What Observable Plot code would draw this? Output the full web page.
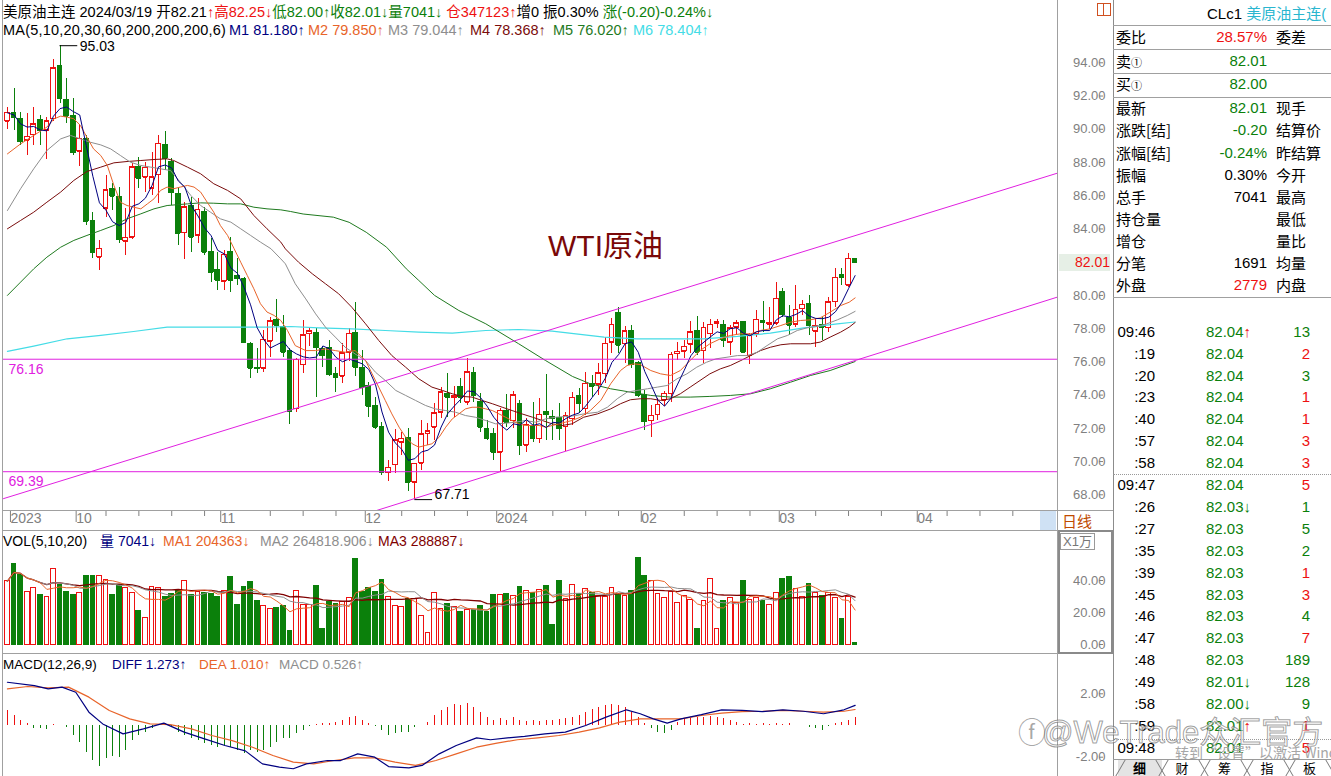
<!DOCTYPE html>
<html lang="zh-CN">
<head>
<meta charset="utf-8">
<title>WTI原油</title>
<script src="https://cdn.jsdelivr.net/npm/d3@7"></script>
<script src="https://cdn.jsdelivr.net/npm/@observablehq/plot@0.6"></script>
<style>
  html,body{margin:0;padding:0;background:#fff;}
  #root{position:relative;width:1331px;height:776px;overflow:hidden;background:#fff;
    font-family:"Liberation Sans",Arial,"Noto Sans CJK SC",sans-serif;color:#000;}
  .a{position:absolute;white-space:nowrap;}
  .hl{position:absolute;height:0;border-top:1px solid #a0a0a0;}
  .vl{position:absolute;width:0;border-left:1px solid #a0a0a0;}
</style>
</head>
<body>
<div id="root"></div>
<script>
// ---------------- DATA (daily candles, index 0 = 2023-09-18 … 129 = 2024-03-19) ----------------
const open = [90.47,90.99,90.63,89.35,89.67,90.53,89.93,90.63,93.78,91.79, 90.79,88.68,89.42,84.47,82.3,85.25,86.42,85.91,83.25,83.51, 87.72,87.12,86.46,87.26,89.06,88.02,86.11,83.77,85.37,83.61, 85.01,82.6,81.5,80.86,82.6,81.16,80.96,77.09,75.64,75.62, 77.23,78.53,78.09,76.63,73.17,75.84,77.69,77.73,76.79,76.85, 75.28,75.12,76.59,77.73,75.64,74.54,73.33,72.11,69.32,69.82, 71.17,71.43,68.76,69.9,71.67,72.07,72.97,74.08,73.84,74.48, 73.58,75.32,73.58,71.97,71.67,70.57,73.07,72.47,73.48,70.97, 72.13,71.37,72.97,72.67,72.63,72.11,72.57,73.92,73.17,74.68, 74.64,75.28,77.19,78.93,77.09,77.85,75.94,73.98,72.47,72.81, 73.68,74.08,76.48,76.64,77.05,77.85,76.68,77.69,78.29,78.19, 77.19,78.09,78.39,76.38,77.69,78.49,78.25,78.33,80.2,78.65, 78.25,79.19,79.49,77.85,78.19,78.05,79.63,81.2,80.6,82.21];
const high = [91.33,92.43,91.03,90.93,91.33,90.83,90.73,94.2,95.03,93.08, 91.87,90.27,89.63,85.01,83.3,87.22,86.72,86.52,85.21,87.92, 88.32,88.02,88.58,89.63,89.87,88.22,86.46,85.61,85.91,85.81, 85.31,83.41,82.6,82.7,83.51,82.2,81.1,77.19,76.79,77.89, 78.69,79.76,78.79,76.8,76.2,78.49,77.99,77.99,76.9,77.29, 75.68,77.09,77.99,79.59,76.68,74.78,73.88,72.37,70.06,71.91, 71.77,71.97,69.9,72.47,72.27,73.48,74.48,75.32,74.54,74.98, 76.18,75.68,74.08,72.47,71.97,73.17,74.04,74.24,73.68,72.57, 73.58,73.78,75.22,73.07,73.51,72.97,74.18,74.38,75.38,75.18, 75.88,77.49,78.59,79.25,78.13,78.19,76.04,74.28,73.38,73.78, 74.24,76.58,77.19,77.29,78.43,78.73,78.39,78.53,78.53,78.49, 78.19,78.49,78.39,77.69,79.09,79.63,79.29,80.8,80.4,79.39, 80.6,79.69,79.99,78.59,78.69,79.89,81.6,81.6,82.5,82.25];
const low = [89.99,89.93,89.02,88.42,89.02,89.02,88.18,90.47,91.53,90.33, 88.42,87.78,84.21,82.2,81.5,84.71,85.11,83.11,82.4,83.37, 86.42,86.22,86.02,85.51,87.52,85.41,83.01,82.16,82.6,83.11, 82.4,80.8,80.3,80.3,80.16,80.6,77.09,74.98,75.28,75.34, 76.28,77.79,76.28,72.23,72.97,75.28,76.9,73.88,75.68,75.12, 74.18,74.68,76.04,75.12,73.98,72.67,71.91,69.16,68.82,69.26, 70.37,68.22,67.71,69.46,70.97,71.27,72.57,72.67,72.67,73.48, 73.38,73.58,71.77,71.27,70.06,69.42,72.07,71.97,70.37,70.57, 71.17,71.07,71.27,71.27,71.27,70.62,72.17,72.87,72.77,73.88, 73.98,74.68,76.49,76.53,75.88,75.58,73.88,71.87,71.47,72.47, 73.33,73.58,76.08,76.18,76.48,76.38,75.88,76.78,77.99,76.88, 76.38,77.59,76.48,75.84,77.49,77.79,77.93,78.19,78.69,77.59, 78.05,78.79,77.59,76.85,77.29,77.79,79.29,80.6,80.5,82.0];
const close = [90.99,90.73,89.26,89.55,90.31,89.93,90.47,93.68,91.83,90.79, 88.58,89.42,84.47,82.6,82.8,86.32,85.97,83.35,83.47,87.72, 87.06,87.68,87.12,89.12,88.26,86.17,83.75,85.31,83.51,85.15, 82.6,81.4,80.9,82.46,80.9,81.0,77.19,75.62,75.58,77.33, 78.45,78.19,76.59,73.03,76.12,77.59,77.85,76.85,76.38,75.24, 75.04,76.52,77.69,75.68,74.48,73.33,72.07,69.36,69.62,71.27, 71.37,68.76,69.86,71.63,71.81,72.91,74.18,73.88,73.92,73.88, 75.38,73.98,72.07,71.37,70.57,73.07,72.37,73.98,70.97,72.23, 71.37,72.83,72.83,72.57,71.97,72.77,73.84,73.48,74.68,74.54, 75.32,77.09,78.23,76.99,77.85,75.84,73.98,72.41,72.77,73.43, 74.08,76.42,76.62,76.92,77.79,76.58,78.05,78.23,78.39,77.29, 78.03,78.33,76.58,77.59,78.53,78.39,78.33,79.79,78.85,78.19, 79.13,79.45,78.19,78.13,78.09,79.59,81.06,81.1,82.2,82.01];
// volume, unit 万 (x10,000)
const volume = [39.6,50.4,43.3,32.9,35.4,30.8,29.8,46.9,37.1,32.7, 30.8,32.3,42.7,42.7,42.7,40.2,30.8,37.5,35.4,32.3, 20.8,16.7,35.8,35.4,29.8,31.3,33.8,40.0,30.8,32.9, 32.3,31.7,29.6,33.3,42.1,24.6,35.8,39.0,27.1,24.0, 22.5,22.9,24.0,8.75,33.3,24.4,24.4,36.5,9.8,26.7, 25.6,26.7,29.2,53.5,32.9,35.4,32.9,40.6,29.8,24.0, 23.3,28.5,28.5,18.1,6.9,31.9,21.9,25.4,23.3,20.2, 21.5,21.3,24.0,20.2,30.8,30.8,31.7,30.2,35.8,33.3, 32.3,33.8,36.5,12.1,39.6,28.5,36.9,31.3,34.4,32.3, 30.6,29.6,35.4,31.3,30.2,33.3,53.8,42.7,39.6,31.3, 29.2,32.9,26.0,30.2,28.1,9.4,27.1,41.0,9.4,27.5, 28.8,26,40,28,29,27.5,25,32,41,42, 35,30,38,32,30.6,32,29,16,30,0.7];

// moving averages: [candle index, value]
const ma10 = [[0,88.52],[2,89.12],[4,89.63],[6,90.13],[7.1,90.63],[8.1,90.79],[9.1,90.73],[10.1,90.63],[11.1,90.23],[12.1,89.52],[13.1,88.82],[14.2,88.42],[15.2,87.82],[16.2,86.62],[17.2,85.61],[18.2,85.41],[19.2,85.31],[20.3,85.21],[21.3,85.51],[22.3,85.81],[23.3,86.32],[24.3,86.52],[25.3,86.42],[26.3,86.52],[27.4,86.62],[28.4,86.52],[29.4,86.22],[30.4,85.61],[31.4,85.01],[32.4,84.21],[33.5,83.61],[34.5,82.81],[35.5,82.0],[36.5,81.2],[37.5,80.4],[38.5,79.5],[39.5,79.0],[40.6,78.79],[41.6,78.49],[42.6,77.9],[43.8,76.98],[45.4,76.68],[46.9,76.68],[48.4,76.78],[49.9,76.68],[51.4,76.58],[52.9,76.68],[54.5,76.08],[55.5,75.28],[56.5,74.48],[57.5,73.68],[58.5,72.87],[59.6,72.07],[60.6,71.47],[61.6,71.07],[62.6,70.87],[63.6,70.97],[64.6,71.07],[65.7,71.47],[66.7,72.07],[67.7,72.57],[68.7,72.87],[69.7,73.17],[70.7,73.27],[71.7,73.27],[72.8,73.17],[73.8,73.07],[74.8,72.87],[75.8,72.67],[76.8,72.47],[77.8,72.27],[78.8,72.17],[80.9,72.17],[81.9,72.07],[82.9,72.17],[83.9,72.27],[84.9,72.37],[85.9,72.47],[87.2,72.67],[88.7,73.07],[90.3,73.68],[91.8,74.68],[93.3,75.48],[94.3,75.78],[95.3,75.88],[96.3,75.84],[97.9,75.48],[99.4,75.28],[100.9,75.18],[102.4,75.48],[103.9,76.08],[105.4,76.68],[106.9,77.09],[108.5,77.39],[110.0,77.59],[111.6,77.69],[113.1,77.69],[114.6,77.89],[116.1,77.99],[117.7,78.19],[119.2,78.39],[120.7,78.49],[122.2,78.53],[123.7,78.65],[125.2,78.99],[126.8,79.39],[128.1,79.59],[129,79.85]];
const ma20 = [[0,85.11],[2,86.42],[4,87.62],[6,88.72],[8.1,89.42],[9.6,89.63],[11.1,89.42],[12.6,89.22],[14.2,89.06],[15.7,88.82],[17.2,88.42],[18.7,88.02],[20.3,87.82],[21.8,87.72],[23.3,87.62],[24.8,87.52],[26.3,86.82],[27.9,86.02],[29.4,85.41],[30.9,85.01],[32.4,84.61],[34.0,84.41],[35.5,84.01],[37.0,83.61],[38.5,83.21],[40.1,82.81],[41.6,82.2],[42.3,81.9],[43.8,80.7],[45.4,79.79],[46.9,78.89],[48.4,78.09],[49.9,77.49],[51.4,76.88],[52.9,76.48],[54.5,76.08],[56.0,75.38],[57.5,74.88],[59.1,74.28],[60.6,73.98],[62.1,73.68],[63.6,73.38],[65.1,73.17],[66.7,73.07],[68.2,72.97],[69.7,72.77],[71.2,72.67],[72.8,72.47],[74.3,72.27],[75.8,72.31],[77.3,72.37],[78.8,72.47],[80.4,72.37],[81.9,72.57],[83.4,72.67],[84.9,72.71],[86.5,72.77],[87.7,72.87],[89.8,72.97],[91.3,73.27],[92.8,73.78],[94.3,74.18],[95.8,74.28],[97.4,74.38],[98.9,74.48],[100.4,74.58],[101.9,74.98],[103.4,75.28],[104.9,75.68],[106.4,75.98],[107.8,76.18],[109.5,76.28],[111.1,76.38],[112.6,76.38],[114.1,76.58],[115.6,76.98],[117.2,77.39],[118.7,77.59],[120.2,77.89],[121.7,78.05],[123.2,78.13],[124.7,78.29],[126.3,78.53],[127.8,78.79],[129,79.04]];
const ma30 = [[0,84.01],[2,84.51],[4,85.01],[6,85.61],[8.1,86.22],[10.1,86.92],[12.1,87.46],[14.2,87.72],[16.2,87.98],[18.2,88.06],[20.3,88.12],[22.3,88.18],[24.3,88.22],[25.3,88.12],[27.4,87.72],[29.4,87.32],[31.4,86.72],[33.5,86.32],[35.5,85.81],[37.5,84.81],[39.5,84.01],[41.6,83.21],[42.3,82.8],[44.3,82.0],[46.4,81.3],[48.4,80.7],[50.4,80.1],[52.4,79.29],[54.5,78.29],[56.5,77.29],[58.5,76.38],[60.6,75.68],[62.6,74.98],[64.6,74.48],[66.2,74.28],[67.7,74.08],[69.2,73.92],[70.7,73.88],[72.2,73.68],[73.8,73.48],[75.3,73.27],[76.8,73.07],[78.3,72.87],[79.9,72.67],[81.4,72.47],[82.9,72.27],[84.4,72.17],[85.9,72.27],[87.7,72.67],[89.8,72.87],[91.8,73.17],[93.3,73.48],[94.8,73.72],[96.3,73.78],[97.9,73.78],[99.4,73.68],[100.9,73.78],[102.4,74.08],[103.9,74.48],[105.4,74.88],[106.9,75.28],[108.5,75.58],[110.0,75.78],[111.6,76.08],[113.1,76.38],[114.6,76.68],[116.1,76.88],[117.7,77.03],[119.2,77.09],[122.2,77.09],[123.7,77.19],[125.2,77.49],[126.8,77.79],[128.1,78.09],[129,78.37]];
const ma60 = [[0,80.0],[2,80.8],[4,81.6],[6,82.3],[8.1,82.9],[10.1,83.31],[12.1,83.61],[14.2,83.91],[16.2,84.21],[18.2,84.61],[20.3,84.91],[22.3,85.21],[24.3,85.41],[27.4,85.51],[29.4,85.57],[31.4,85.55],[33.5,85.51],[35.5,85.51],[37.5,85.31],[39.5,85.21],[41.6,85.15],[43.1,85.05],[45.0,84.9],[49.6,84.71],[52.0,84.4],[54.6,83.8],[57.7,82.9],[60.7,81.6],[62.6,80.9],[65.0,80.0],[68.7,79.09],[72.8,78.29],[77.8,77.09],[81.9,76.08],[86.0,75.12],[88.7,74.68],[91.8,74.38],[94.8,74.18],[97.9,73.98],[100.9,73.88],[103.9,73.88],[106.9,73.92],[110.0,73.98],[113.1,74.08],[116.1,74.38],[119.2,74.78],[122.2,75.18],[125.2,75.48],[129,76.02]];
const ma200 = [[0,76.63],[4,76.95],[9.1,77.39],[14.2,77.59],[19.2,77.83],[24.3,78.09],[29.4,78.09],[34.5,78.09],[39.5,78.09],[43.1,78.13],[47.4,78.05],[52.4,77.99],[57.5,77.89],[62.6,77.79],[67.7,77.73],[72.8,77.89],[77.8,77.95],[82.9,77.85],[86.5,77.69],[90.8,77.49],[95.8,77.39],[100.9,77.39],[105.9,77.39],[111.1,77.53],[116.1,77.73],[121.2,78.05],[126.3,78.29],[129,78.40]];

// user-drawn levels and channel
const levels = [76.16, 69.39];
const chanUpper = [[-0.6, 67.77], [159.8, 87.36]];
const chanLower = [[50, 66.29], [159.8, 79.9]];

// MACD(12,26,9)
const diffLine = [[0,2.73],[4.1,2.52],[6.2,2.31],[8.3,2.42],[10.4,2.1],[12.4,0.84],[14.5,0.1],[17.6,-0.53],[20.7,-0.21],[23.8,0.15],[26.9,-0.42],[30.0,-0.84],[33.1,-1.26],[36.2,-1.6],[38.8,-2.42],[41.4,-2.63],[43.5,-2.73],[45.5,-2.42],[48.7,-2.21],[50.7,-2.21],[53.3,-1.79],[55.9,-2.0],[58.0,-2.59],[61.1,-2.67],[63.1,-2.52],[65.7,-1.79],[68.3,-1.26],[71.4,-0.78],[73.5,-0.9],[76.1,-0.78],[78.7,-0.69],[81.8,-0.53],[84.9,-0.42],[88.0,0],[91.1,0.53],[94.2,0.99],[96.3,0.74],[98.3,0.42],[100.4,0.15],[102.5,0.42],[105.6,0.69],[108.7,0.99],[111.8,0.95],[114.9,0.88],[118.0,0.99],[121.1,0.9],[124.2,0.74],[127.3,0.99],[129,1.273]];
const deaLine = [[0,2.31],[3.1,2.46],[6.2,2.38],[9.3,2.42],[12.4,1.79],[15.5,0.95],[18.6,0.42],[21.7,0.1],[24.8,0.06],[28.0,-0.21],[31.1,-0.63],[34.2,-0.95],[37.3,-1.37],[40.4,-1.89],[43.5,-2.31],[46.6,-2.42],[49.7,-2.21],[52.8,-2.04],[55.9,-2.04],[59.0,-2.31],[62.1,-2.52],[65.2,-2.21],[68.3,-1.79],[71.4,-1.37],[74.5,-1.11],[77.6,-0.9],[80.7,-0.78],[83.9,-0.63],[87.0,-0.42],[90.1,-0.15],[93.2,0.21],[96.3,0.42],[99.4,0.42],[102.5,0.42],[105.6,0.63],[108.7,0.78],[111.8,0.88],[114.9,0.9],[118.0,0.95],[121.1,0.9],[124.2,0.84],[127.3,0.9],[129,1.01]];
const macdHist = [0.95,0.63,0.32,0.1,-0.2,-0.2,-0.25,0.05,0.03,-0.1, -0.63,-1.05,-1.68,-2.2,-2.59,-2.1,-1.96,-2.0,-1.58,-0.95, -0.63,-0.42,-0.21,0.05,0.1,-0.1,-0.42,-0.63,-0.84,-0.95, -1.16,-1.26,-1.37,-1.26,-1.37,-1.58,-1.79,-1.58,-1.68,-1.58, -1.37,-1.05,-0.84,-0.84,-0.53,-0.32,-0.06,0.06,0.1,0.15, 0.21,0.32,0.53,0.57,0.32,0.1,-0.06,-0.32,-0.63,-0.53, -0.42,-0.42,-0.15,0.02,0.21,0.63,0.95,1.16,1.3,1.26, 1.41,1.16,0.84,0.53,0.32,0.42,0.32,0.53,0.32,0.27, 0.32,0.27,0.32,0.32,0.36,0.42,0.53,0.63,0.84,0.99, 1.16,1.26,1.3,1.26,1.16,0.84,0.53,0.15,-0.21,-0.42, -0.53,-0.32,0.21,0.42,0.42,0.53,0.53,0.57,0.53,0.42, 0.32,0.21,0.06,0.1,0.06,0.1,0.06,0.15,0.06,0.1, 0.0,0.0,-0.1,-0.21,-0.32,-0.06,0.1,0.21,0.32,0.526];

// axis ticks
const priceTicks = [68,70,72,74,76,78,80,82,84,86,88,90,92,94];
const volTicks = [0,20,40];
const macdTicks = [2,-2];
const dateTickIdx = [0,10,32,54,74,96,117,138];
const dateTickLabel = ["2023","10","11","12","2024","02","03","04"];
const weekTickIdx = [15,20,25,30,40,45,50,60,65,70,83,88,93,103,108,113,123,128,133,143,148,153,158];

// texts
const titleText = "WTI原油";
const infoLine = "美原油主连 2024/03/19";
const maHeader = ["MA(5,10,20,30,60,200,200,200,6)","M1 81.180↑","M2 79.850↑","M3 79.044↑","M4 78.368↑","M5 76.020↑","M6 78.404↑"];
const volHeader = ["VOL(5,10,20)","量 7041↓","MA1 204363↓","MA2 264818.906↓","MA3 288887↓"];
const macdHeader = ["MACD(12,26,9)","DIFF 1.273↑","DEA 1.010↑","MACD 0.526↑"];
const quoteLabel = ["委比","卖①","买①","最新","涨跌[结]","涨幅[结]","振幅","总手","持仓量","增仓","分笔","外盘"];
const quoteValue = ["28.57%","82.01","82.00","82.01","-0.20","-0.24%","0.30%","7041","","","1691","2779"];
const quoteTone  = ["up","down","down","down","down","down","flat","flat","flat","flat","flat","up"];
const quoteRight = ["委差","","","现手","结算价","昨结算","今开","最高","最低","量比","均量","内盘"];
const tickTime  = ["09:46",":19",":20",":23",":40",":57",":58","09:47",":26",":27",":35",":39",":45",":46",":47",":48",":49",":58",":59","09:48"];
const tickPrice = ["82.04","82.04","82.04","82.04","82.04","82.04","82.04","82.04","82.03","82.03","82.03","82.03","82.03","82.03","82.03","82.03","82.01","82.00","82.01","82.01"];
const tickArrow = ["↑","","","","","","","","↓","","","","","","","","↓","↓","↑",""];
const tickVol   = [13,2,3,1,1,3,3,5,1,5,2,1,3,4,7,189,128,9,1,5];
const tickSide  = ["down","up","down","up","up","up","up","up","down","down","down","up","up","down","up","down","down","down","up","up"];
const tabs = ["细","财","筹","指","板"];

// ---------------- RENDER ----------------
const RED = "#ee1111", GREEN = "#0b800b", MAG = "#e020e0";
const C_MA5 = "#000080", C_MA10 = "#e8642a", C_MA20 = "#8e8e8e", C_MA30 = "#7a0c0c", C_MA60 = "#1f7a1f", C_MA200 = "#44dce6";
const toneColor = {up: RED, down: GREEN, flat: "#000"};
const root = document.getElementById("root");
const xDomain = [-0.6, 159.8];
const plotStyle = {fontFamily: "Liberation Sans, Arial, sans-serif", fontSize: "13px", background: "transparent", overflow: "visible"};

const candles = open.map((o, i) => ({i, o, h: high[i], l: low[i], c: close[i], v: volume[i]}));
const col = d => d.c >= d.o ? RED : GREEN;
const bodyFill = d => d.c >= d.o ? "#fff" : GREEN;
const hw = 0.36;

function place(el, left, top) {
  const w = document.createElement("div");
  w.style.cssText = `position:absolute;left:${left}px;top:${top}px;`;
  w.appendChild(el); root.appendChild(w); return w;
}
function txt(html, left, top, css = "") {
  const d = document.createElement("div");
  d.className = "a"; d.style.cssText += `left:${left}px;top:${top}px;${css}`;
  d.innerHTML = html; root.appendChild(d); return d;
}
function hline(x1, x2, y, css = "") { const d = document.createElement("div"); d.className = "hl"; d.style.cssText += `left:${x1}px;width:${x2 - x1}px;top:${y}px;${css}`; root.appendChild(d); }
function vline(x, y1, y2, css = "") { const d = document.createElement("div"); d.className = "vl"; d.style.cssText += `left:${x}px;top:${y1}px;height:${y2 - y1}px;${css}`; root.appendChild(d); }

const hi = candles.reduce((a, b) => b.h > a.h ? b : a);
const lo = candles.reduce((a, b) => b.l < a.l ? b : a);
const labelMap = new Map(dateTickIdx.map((d, k) => [d, dateTickLabel[k]]));
const yAxisOpts = {anchor: "right", tickSize: 4, tickPadding: 3, textAnchor: "end", dx: 41, color: "#808080", fontSize: 13, label: null, tickFormat: d => d.toFixed(2)};

const priceChart = Plot.plot({
  width: 1113, height: 531, marginLeft: 3, marginRight: 56, marginTop: 0, marginBottom: 21,
  x: {domain: xDomain, axis: null},
  y: {domain: [67.055, 97.75], axis: null},
  style: plotStyle,
  marks: [
    Plot.ruleX(candles, {x: "i", y1: "l", y2: "h", stroke: col, shapeRendering: "crispEdges"}),
    Plot.rect(candles, {x1: d => d.i - hw, x2: d => d.i + hw, y1: d => Math.min(d.o, d.c), y2: d => Math.max(d.o, d.c), fill: bodyFill, stroke: col, shapeRendering: "crispEdges"}),
    Plot.ruleY(candles, {y: "c", x1: d => d.i - hw, x2: d => d.i + hw, stroke: col, shapeRendering: "crispEdges"}),
    Plot.ruleY(candles, {y: "o", x1: d => d.i - hw, x2: d => d.i + hw, stroke: col, shapeRendering: "crispEdges"}),
    Plot.line(ma200, {x: d => d[0], y: d => d[1], stroke: C_MA200, strokeWidth: 1.2}),
    Plot.line(ma60, {x: d => d[0], y: d => d[1], stroke: C_MA60, strokeWidth: 1}),
    Plot.line(ma30, {x: d => d[0], y: d => d[1], stroke: C_MA30, strokeWidth: 1}),
    Plot.line(ma20, {x: d => d[0], y: d => d[1], stroke: C_MA20, strokeWidth: 1}),
    Plot.line(ma10, {x: d => d[0], y: d => d[1], stroke: C_MA10, strokeWidth: 1}),
    Plot.lineY(candles, Plot.windowY({k: 5, anchor: "end"}, {x: "i", y: "c", stroke: C_MA5, strokeWidth: 1})),
    Plot.ruleY(levels, {y: d => d, stroke: MAG, strokeWidth: 1}),
    Plot.line(chanUpper, {x: d => d[0], y: d => d[1], stroke: MAG, strokeWidth: 1, clip: true}),
    Plot.line(chanLower, {x: d => d[0], y: d => d[1], stroke: MAG, strokeWidth: 1, clip: true}),
    Plot.text(levels, {frameAnchor: "left", y: d => d, text: d => d.toFixed(2), dx: 5, dy: 10, textAnchor: "start", fill: MAG, fontSize: 14}),
    Plot.ruleY([hi], {y: "h", x1: "i", x2: d => d.i + 2.7, stroke: "#000"}),
    Plot.text([hi], {x: d => d.i + 2.7, y: "h", text: d => d.h.toFixed(2), textAnchor: "start", dx: 2, dy: 1, fill: "#000", fontSize: 14}),
    Plot.ruleY([lo], {y: "l", x1: "i", x2: d => d.i + 2.7, stroke: "#000"}),
    Plot.text([lo], {x: d => d.i + 2.7, y: "l", text: d => d.l.toFixed(2), textAnchor: "start", lineAnchor: "bottom", dx: 2, dy: -1, fill: "#000", fontSize: 14}),
    Plot.axisY({...yAxisOpts, ticks: priceTicks}),
    Plot.axisX({anchor: "bottom", ticks: dateTickIdx, tickFormat: d => labelMap.get(d), tickSize: 12, tickPadding: -9, textAnchor: "start", dx: 3, color: "#808080", fontSize: 14, label: null}),
    Plot.axisX({anchor: "bottom", ticks: weekTickIdx, tickFormat: () => "", tickSize: 6, color: "#808080", label: null})
  ]
});
place(priceChart, 0, 0);

const volChart = Plot.plot({
  width: 1113, height: 122, marginLeft: 3, marginRight: 56, marginTop: 0, marginBottom: 0,
  x: {domain: xDomain, axis: null},
  y: {domain: [-5.625, 70.625], axis: null},
  style: plotStyle,
  marks: [
    Plot.rect(candles, {x1: d => d.i - hw, x2: d => d.i + hw, y1: 0, y2: "v", fill: bodyFill, stroke: col, shapeRendering: "crispEdges"}),
    Plot.lineY(candles, Plot.windowY({k: 20, anchor: "end"}, {x: "i", y: "v", stroke: "#800000", strokeWidth: 1.3})),
    Plot.lineY(candles, Plot.windowY({k: 10, anchor: "end"}, {x: "i", y: "v", stroke: "#8e8e8e", strokeWidth: 1})),
    Plot.lineY(candles, Plot.windowY({k: 5, anchor: "end"}, {x: "i", y: "v", stroke: C_MA10, strokeWidth: 1})),
    Plot.axisY({...yAxisOpts, ticks: volTicks})
  ]
});
place(volChart, 0, 531);

const histRows = macdHist.map((v, i) => ({i, v}));
const macdChart = Plot.plot({
  width: 1113, height: 123, marginLeft: 3, marginRight: 56, marginTop: 0, marginBottom: 0,
  x: {domain: xDomain, axis: null},
  y: {domain: [-3.218, 4.543], axis: null},
  style: plotStyle,
  marks: [
    Plot.ruleX(histRows, {x: "i", y1: 0, y2: "v", stroke: d => d.v >= 0 ? RED : GREEN, shapeRendering: "crispEdges"}),
    Plot.line(deaLine, {x: d => d[0], y: d => d[1], stroke: C_MA10, strokeWidth: 1.2}),
    Plot.line(diffLine, {x: d => d[0], y: d => d[1], stroke: "#000080", strokeWidth: 1.2}),
    Plot.axisY({...yAxisOpts, ticks: macdTicks})
  ]
});
place(macdChart, 0, 653);

// ---------- frame lines ----------
vline(2, 0, 776);
vline(1057, 0, 776);
vline(1113, 0, 776, "border-left-color:#8c8c8c;");
hline(2, 1113, 510);
hline(2, 1113, 530);
hline(2, 1113, 653);
const box = document.createElement("div");
box.style.cssText = "position:absolute;left:1058px;top:530px;width:51px;height:120px;border:2px solid #8a8a8a;";
root.appendChild(box);
txt("X1万", 1060, 533, "font-size:13px;color:#777;border:1px solid #999;padding:0 2px;line-height:15px;background:#fff;font-family:'Liberation Sans','Noto Sans CJK SC';");
txt("", 1040, 511, "width:16px;height:19px;background:#cfe1f4;");
txt("日线", 1062, 511, "font-size:15px;line-height:19px;color:#c04a00;font-family:'Noto Sans CJK SC';");
txt("", 1097, 3, "width:12px;height:11px;border:1px solid #d05020;");
vline(1103, 3, 16, "border-left-color:#d05020;");

// current price tag
const tagY = priceChart.scale("y").apply(close[close.length - 1]);
txt(close[close.length - 1].toFixed(2), 1059, tagY - 8, `width:51px;height:17px;line-height:17px;text-align:right;background:#e6efe6;color:${RED};font-size:14px;`);

// ---------- headers ----------
const up = s => `<span style="color:${RED}">${s}</span>`;
const dn = s => `<span style="color:${GREEN}">${s}</span>`;
const hdrCss = "font-size:14.5px;line-height:18px;";
txt(`${infoLine} 开82.21${up("↑")}${up("高82.25↓")}${dn("低82.00↑")}${dn("收82.01↓")}${dn("量7041↓")} ${up("仓347123↑")}增0 振0.30% ${dn("涨(-0.20)-0.24%↓")}`, 3, 3, hdrCss);
const maColors = ["#000", C_MA5, C_MA10, C_MA20, C_MA30, C_MA60, C_MA200];
const maX = [3, 229, 308, 388, 470, 553, 633];
maHeader.forEach((t, k) => txt(t, maX[k], 21, hdrCss + `color:${maColors[k]};` + (k === 0 ? "letter-spacing:0.2px;" : "")));
const volColors = ["#000", "#000080", C_MA10, "#8e8e8e", "#800000"];
const volX = [3, 100, 163, 260, 378];
volHeader.forEach((t, k) => txt(t, volX[k], 532, hdrCss + `color:${volColors[k]};font-size:14px;`));
const macdColors = ["#000", "#000080", C_MA10, "#8e8e8e"];
const macdX = [3, 112, 199, 279];
macdHeader.forEach((t, k) => txt(t, macdX[k], 656, `font-size:13.5px;line-height:18px;color:${macdColors[k]};`));
txt(titleText, 548, 228, "font-size:30px;line-height:36px;color:#7a0808;font-family:'Liberation Sans','Noto Sans CJK SC';");

// ---------- right panel ----------
txt(`CLc1 <span style="color:#2ab6cf">美原油主连(</span>`, 1207, 4, "font-size:15px;line-height:20px;font-family:'Liberation Sans','Noto Sans CJK SC';");
[25, 49, 73, 97, 297].forEach(y => hline(1113, 1331, y));
const qY = [36.7, 61, 84.3, 108.3, 130.4, 152.5, 174.6, 196.7, 218.8, 240.9, 263, 285.1];
quoteLabel.forEach((lab, k) => {
  const y = qY[k] - 10;
  const l = lab.replace("①", '<span style="font-size:11px">①</span>');
  txt(l, 1116, y, "font-size:15px;line-height:20px;font-family:'Noto Sans CJK SC';");
  txt(quoteValue[k], 1170, y, `width:97px;text-align:right;font-size:15px;line-height:20px;color:${toneColor[quoteTone[k]]};`);
  txt(quoteRight[k], 1276, y, "font-size:15px;line-height:20px;font-family:'Noto Sans CJK SC';");
});
tickTime.forEach((t, k) => {
  const y = 331.7 + k * 21.9 - 10;
  txt(t, 1100, y, "width:55px;text-align:right;font-size:15px;line-height:20px;");
  const ar = tickArrow[k] ? `<span style="color:${tickArrow[k] === "↑" ? RED : GREEN}">${tickArrow[k]}</span>` : "";
  txt(`<span style="color:${GREEN}">${tickPrice[k]}</span>${ar}`, 1206, y, "font-size:15px;line-height:20px;");
  txt(String(tickVol[k]), 1260, y, `width:50px;text-align:right;font-size:15px;line-height:20px;color:${toneColor[tickSide[k]]};`);
});
hline(1113, 1331, 474, "border-top:1px dotted #999;");
hline(1113, 1331, 739, "border-top:1px dotted #999;");

// watermark
txt("@WeTrade众汇官方", 1042, 714, "font-size:31px;line-height:38px;color:rgba(255,255,255,0.55);-webkit-text-stroke:1px rgba(95,95,95,0.6);font-family:'Liberation Sans','Noto Sans CJK SC';");
txt("ⓕ", 1018, 716, "font-size:28px;line-height:36px;color:rgba(110,110,110,0.6);");
txt("转到“设置”以激活 Windows", 1175, 744, "font-size:14px;line-height:16px;color:#a6a6a6;font-family:'Noto Sans CJK SC';");

// bottom tab bar
hline(1113, 1331, 759, "border-top-color:#9a9a9a;");
txt("", 1118, 760, "width:44px;height:16px;background:#e4e4e4;");
tabs.forEach((t, k) => {
  txt(t, 1133 + k * 42.5, 760, `font-size:13px;line-height:15px;font-family:'Noto Sans CJK SC';${k === 0 ? "font-weight:bold;" : ""}`);
  txt("", 1160 + k * 42.5, 760, "width:0;height:16px;border-left:1px solid #777;transform:skewX(30deg);");
  txt("", 1120 + k * 42.5, 760, "width:0;height:16px;border-left:1px solid #777;transform:skewX(-30deg);");
});
</script>
</body>
</html>
